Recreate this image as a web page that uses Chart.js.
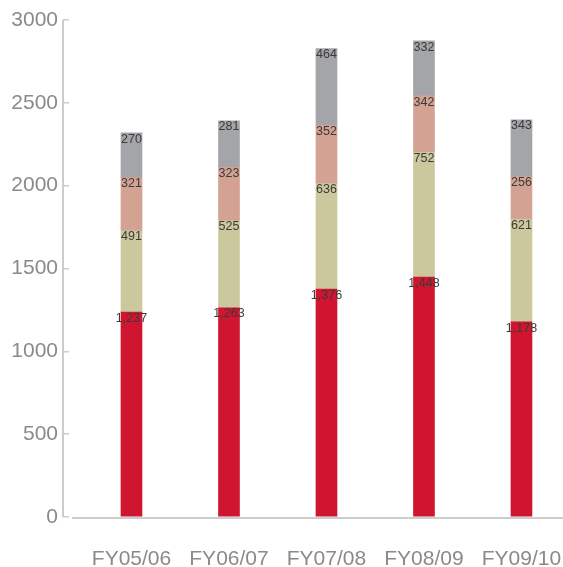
<!DOCTYPE html>
<html>
<head>
<meta charset="utf-8">
<script src="https://cdn.jsdelivr.net/npm/chart.js@4/dist/chart.umd.min.js"></script>
<style>
  html, body { margin: 0; padding: 0; background: #fff; overflow: hidden; }
  canvas { display: block; }
</style>
</head>
<body>
<canvas id="chart" width="563" height="567"></canvas>
<script>
const categories = ['FY05/06', 'FY06/07', 'FY07/08', 'FY08/09', 'FY09/10'];
const redValues = [1237, 1263, 1376, 1448, 1178];
const oliveValues = [491, 525, 636, 752, 621];
const pinkValues = [321, 323, 352, 342, 256];
const greyValues = [270, 281, 464, 332, 343];
const yTicks = [0, 500, 1000, 1500, 2000, 2500, 3000];

const AXIS_COLOR = '#cccccc';
const TICK_TEXT = '#8a8a8a';
const FONT = '"Liberation Sans", Arial, sans-serif';

const toPoints = (values) => values.map((y, x) => ({ x, y }));

const series = [
  { data: redValues, color: '#cf1530' },
  { data: oliveValues, color: '#ccc89d' },
  { data: pinkValues, color: '#d3a292' },
  { data: greyValues, color: '#a4a5a9' },
];

// axis lines: y line sits at the outer end of the ticks, x line starts a bit right of it
const axisLines = {
  id: 'axisLines',
  afterDraw(chart) {
    const { ctx, chartArea } = chart;
    const tickLen = chart.options.scales.y.grid.tickLength;
    ctx.save();
    ctx.strokeStyle = AXIS_COLOR;
    ctx.lineWidth = 2;
    ctx.beginPath();
    ctx.moveTo(chartArea.left - tickLen, chartArea.top);
    ctx.lineTo(chartArea.left - tickLen, chartArea.bottom);
    ctx.moveTo(chartArea.left + 3, chartArea.bottom + 1);
    ctx.lineTo(chart.width, chartArea.bottom + 1);
    ctx.stroke();
    ctx.restore();
  },
};

const segmentLabels = {
  id: 'segmentLabels',
  afterDatasetsDraw(chart) {
    const { ctx } = chart;
    ctx.save();
    ctx.font = `12.5px ${FONT}`;
    ctx.fillStyle = '#3a3a3a';
    ctx.textAlign = 'center';
    ctx.textBaseline = 'top';
    chart.data.datasets.forEach((ds, i) => {
      chart.getDatasetMeta(i).data.forEach((bar, j) => {
        ctx.fillText(ds.data[j].y.toLocaleString('en-US'), bar.x, bar.y);
      });
    });
    ctx.restore();
  },
};

new Chart(document.getElementById('chart'), {
  type: 'bar',
  data: {
    datasets: series.map((s) => ({
      data: toPoints(s.data),
      backgroundColor: s.color,
      barThickness: 21,
      borderWidth: 0,
    })),
  },
  options: {
    responsive: false,
    animation: false,
    layout: { padding: { top: 20, right: 0, bottom: 0, left: 0 } },
    plugins: {
      legend: { display: false },
      tooltip: { enabled: false },
    },
    scales: {
      x: {
        type: 'linear',
        stacked: true,
        offset: false,
        min: -0.641,
        max: 4.426,
        grid: { display: false, offset: false },
        border: { display: false },
        afterBuildTicks: (scale) => {
          scale.ticks = categories.map((_, i) => ({ value: i }));
        },
        afterFit: (scale) => {
          scale.height = 50;
          scale.paddingLeft = 0;
          scale.paddingRight = 0;
        },
        ticks: {
          autoSkip: false,
          maxRotation: 0,
          padding: 22,
          color: TICK_TEXT,
          font: { family: FONT, size: 21 },
          callback: (v) => categories[v],
        },
      },
      y: {
        stacked: true,
        min: 0,
        max: 3000,
        grid: {
          drawOnChartArea: false,
          drawTicks: true,
          tickLength: 6,
          color: AXIS_COLOR,
          lineWidth: 1.5,
        },
        border: { display: false },
        afterBuildTicks: (scale) => {
          scale.ticks = yTicks.map((value) => ({ value }));
        },
        afterFit: (scale) => {
          scale.width = 69;
        },
        ticks: {
          padding: 5,
          color: TICK_TEXT,
          font: { family: FONT, size: 21 },
          callback: (v) => String(v),
        },
      },
    },
  },
  plugins: [axisLines, segmentLabels],
});
</script>
</body>
</html>
